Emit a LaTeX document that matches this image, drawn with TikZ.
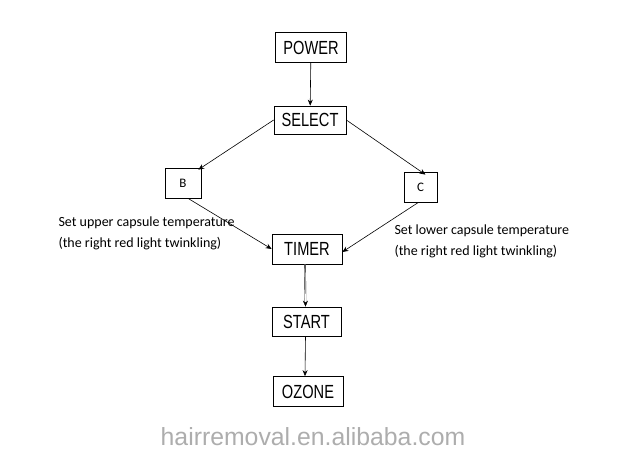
\documentclass[tikz,border=0pt]{standalone}
\usepackage{fontspec}
\setmainfont{Carlito}
\newfontfamily\boxfont[FakeStretch=0.77]{Liberation Sans}
\newfontfamily\markfont{Liberation Sans}
\usetikzlibrary{arrows.meta}
\begin{document}
\begin{tikzpicture}[x=1pt, y=-1pt, >={Stealth[length=6pt, width=5pt]},
    stepbox/.style={draw, line width=0.7pt, inner sep=0pt, minimum width=70pt, minimum height=29pt, font=\boxfont\fontsize{19}{19}\selectfont},
    letterbox/.style={draw, line width=0.7pt, inner sep=0pt, minimum width=35pt, minimum height=30pt, font=\fontsize{13}{13}\selectfont},
    note/.style={align=left, font=\fontsize{14}{21}\selectfont},
    flow/.style={->, line width=0.6pt}]
        \useasboundingbox (0,0) rectangle (625,454);

        % main column
        \node[stepbox, minimum width=71pt, minimum height=30pt] (power) at (311,47.5) {POWER};
        \node[stepbox, minimum width=72pt, minimum height=28pt] (select) at (310,120) {SELECT};
        \node[stepbox, minimum height=30pt] (timer) at (307,249) {TIMER};
        \node[stepbox, minimum width=69pt] (start) at (306.5,321.5) {START};
        \node[stepbox, minimum height=30pt] (ozone) at (308,391.5) {OZONE};

        % the two branches
        \node[letterbox, minimum width=36pt] (b) at (183,183) {B};
        \node[letterbox, minimum width=33pt] (c) at (420.5,187) {C};

        \node[note, anchor=west] (upper) at (55,233) {Set upper capsule temperature\\(the right red light twinkling)};
        \node[note, anchor=west] (lower) at (391,241.5) {Set lower capsule temperature\\(the right red light twinkling)};

        \draw[flow] (power) -- (select);
        \draw[flow] (select.west) -- ([xshift=-3pt, yshift=-2pt]b.north east);
        \draw[flow] (select.east) -- ([xshift=5pt, yshift=-3pt]c.north);
        \draw[flow] ([xshift=5pt]b.south) -- (timer.west);
        \draw[flow] ([xshift=-2pt]c.south) -- ([yshift=-3pt]timer.east);
        \draw[flow, double, double distance=0.8pt, line width=0.4pt] ([xshift=-2pt]timer.south) -- ([xshift=-1pt]start.north);
        \draw[flow] ([xshift=-1pt]start.south) -- ([xshift=-3pt]ozone.north);

        % watermark
        \node[font=\markfont\fontsize{24.8}{24.8}\selectfont, text=black!32] (mark) at (313,437) {hairremoval.en.alibaba.com};
\end{tikzpicture}
\end{document}
